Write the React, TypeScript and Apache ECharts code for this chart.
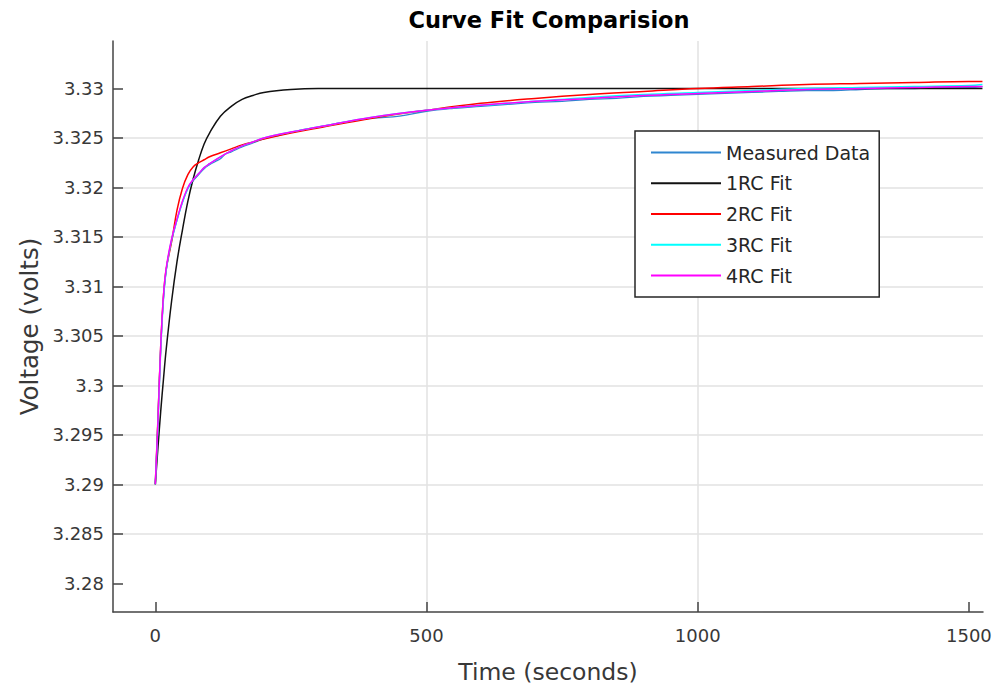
import React, { useEffect, useRef } from "react";
import * as echarts from "echarts";

const titleText = "Curve Fit Comparision";
const xName = "Time (seconds)";
const yName = "Voltage (volts)";

const xTicks = [0, 500, 1000, 1500];
const yTicks = [3.28, 3.285, 3.29, 3.295, 3.3, 3.305, 3.31, 3.315, 3.32, 3.325, 3.33];

const seriesNames = ["Measured Data", "1RC Fit", "2RC Fit", "3RC Fit", "4RC Fit"];

const fitTimes = [0, 5, 10, 15, 20, 30, 40, 50, 60, 70, 80, 90, 100, 120, 140, 160, 180, 200, 250, 300, 400, 500, 600, 700, 800, 900, 1000, 1100, 1200, 1300, 1400, 1500, 1525];

const fit1RC = [3.29, 3.2938, 3.2974, 3.3006, 3.3036, 3.3085, 3.3125, 3.3157, 3.3186, 3.3209, 3.3228, 3.3244, 3.3255, 3.3272, 3.3282, 3.3289, 3.3293, 3.3296, 3.3299, 3.33, 3.33, 3.33, 3.33, 3.33, 3.33, 3.33, 3.33, 3.33, 3.33, 3.33, 3.33, 3.33, 3.33];

const fit2RC = [3.29, 3.2968, 3.304, 3.309, 3.3117, 3.3145, 3.3177, 3.3199, 3.3213, 3.3221, 3.3225, 3.3228, 3.3231, 3.3235, 3.3239, 3.3243, 3.3246, 3.3249, 3.3255, 3.326, 3.327, 3.3278, 3.3285, 3.329, 3.3294, 3.3297, 3.33, 3.3302, 3.3304, 3.3305, 3.3306, 3.3307, 3.3307];

const fit3RC = [3.29, 3.2962, 3.3036, 3.3087, 3.3116, 3.3147, 3.3167, 3.3185, 3.3199, 3.3208, 3.3214, 3.322, 3.3224, 3.3231, 3.3237, 3.3242, 3.3246, 3.325, 3.3256, 3.3261, 3.3271, 3.3278, 3.3283, 3.3287, 3.3291, 3.3294, 3.3296, 3.3298, 3.33, 3.3301, 3.3302, 3.3303, 3.3304];

const fit4RC = [3.29, 3.2965, 3.304, 3.309, 3.3118, 3.3148, 3.3168, 3.3186, 3.32, 3.3208, 3.3214, 3.322, 3.3224, 3.3231, 3.3237, 3.3242, 3.3246, 3.325, 3.3256, 3.3261, 3.3271, 3.3278, 3.3283, 3.3287, 3.329, 3.3293, 3.3295, 3.3297, 3.3299, 3.33, 3.3301, 3.3302, 3.3302];

const measuredTimes = [0, 3, 6, 10, 15, 20, 25, 30, 40, 50, 60, 70, 80, 90, 100, 110, 120, 130, 140, 160, 180, 200, 230, 260, 300, 350, 400, 450, 500, 550, 600, 650, 700, 750, 800, 850, 900, 950, 1000, 1050, 1100, 1150, 1200, 1250, 1300, 1350, 1400, 1450, 1500, 1525];

const measured = [3.29, 3.2938, 3.2985, 3.3038, 3.3088, 3.3116, 3.3133, 3.3146, 3.3167, 3.3185, 3.3199, 3.3207, 3.3213, 3.3219, 3.3223, 3.3226, 3.3229, 3.3234, 3.3236, 3.3241, 3.3245, 3.3249, 3.3253, 3.3257, 3.3261, 3.3266, 3.327, 3.3272, 3.3277, 3.328, 3.3282, 3.3284, 3.3286, 3.3287, 3.3289, 3.329, 3.3292, 3.3293, 3.3294, 3.3295, 3.3296, 3.3297, 3.3298, 3.3298, 3.3299, 3.33, 3.33, 3.3301, 3.3301, 3.3302];

const colors = ["#2f86d0", "#111111", "#ff0000", "#00ffff", "#ff00ff"];

const FONT = "DejaVu Sans";

function zip(t: number[], v: number[]) {
  return t.map((x, i) => [x, v[i]]);
}

export default function App() {
  const ref = useRef<HTMLDivElement>(null);
  useEffect(() => {
    if (!ref.current) return;
    const chart = echarts.init(ref.current, null, { renderer: "svg" });
    const datas = [
      zip(measuredTimes, measured),
      zip(fitTimes, fit1RC),
      zip(fitTimes, fit2RC),
      zip(fitTimes, fit3RC),
      zip(fitTimes, fit4RC),
    ];
    const axisColor = "#444444";
    const labelColor = "#383838";
    chart.setOption({
      animation: false,
      backgroundColor: "#ffffff",
      grid: { left: 113, right: 17, top: 41, bottom: 79, containLabel: false },
      graphic: [
        {
          type: "text",
          x: 549,
          y: 20,
          style: {
            text: titleText,
            align: "center",
            verticalAlign: "middle",
            fontFamily: FONT,
            fontWeight: "bold",
            fontSize: 22.5,
            fill: "#000000",
          },
        },
      ],
      legend: {
        orient: "vertical",
        left: 635,
        top: 131,
        itemWidth: 70,
        itemHeight: 14,
        itemGap: 11.75,
        padding: [12, 9, 12, 15],
        borderColor: "#262626",
        borderWidth: 1.5,
        backgroundColor: "#ffffff",
        selectedMode: false,
        itemStyle: { opacity: 0, borderWidth: 0 },
        textStyle: { fontFamily: FONT, fontSize: 19, color: "#262626" },
        data: seriesNames,
      },
      xAxis: {
        type: "value",
        min: -78,
        max: 1526,
        splitNumber: 3,
        name: xName,
        nameLocation: "middle",
        nameGap: 48,
        nameTextStyle: { fontFamily: FONT, fontSize: 23.5, color: labelColor },
        axisLine: { show: true, onZero: false, lineStyle: { color: axisColor, width: 1.5 } },
        axisTick: { show: true, inside: true, length: 10, customValues: xTicks, lineStyle: { color: axisColor, width: 1.5 } },
        axisLabel: {
          customValues: xTicks,
          margin: 14,
          color: labelColor,
          fontFamily: FONT,
          fontSize: 18,
          formatter: (v: number) => String(v),
        },
        splitLine: { show: true, showMinLine: false, showMaxLine: false, lineStyle: { color: "#e2e2e2", width: 1.5 } },
      },
      yAxis: {
        type: "value",
        min: 3.2771,
        max: 3.3348,
        splitNumber: 11,
        name: yName,
        nameLocation: "middle",
        nameGap: 70,
        nameTextStyle: { fontFamily: FONT, fontSize: 24.5, color: labelColor },
        axisLine: { show: true, onZero: false, lineStyle: { color: axisColor, width: 1.5 } },
        axisTick: { show: true, inside: true, length: 10, customValues: yTicks, lineStyle: { color: axisColor, width: 1.5 } },
        axisLabel: {
          customValues: yTicks,
          margin: 9,
          color: labelColor,
          fontFamily: FONT,
          fontSize: 18,
          formatter: (v: number) => String(Number(v.toFixed(3))),
        },
        splitLine: { show: true, showMinLine: false, showMaxLine: false, lineStyle: { color: "#e2e2e2", width: 1.5 } },
      },
      series: seriesNames.map((name, i) => ({
        name,
        type: "line",
        data: datas[i],
        symbol: "none",
        showSymbol: false,
        smooth: 0.4,
        lineStyle: { color: colors[i], width: i === 0 ? 1.3 : 1.5 },
        itemStyle: { color: colors[i] },
      })),
    });
    return () => chart.dispose();
  }, []);
  return <div ref={ref} style={{ position: "absolute", left: 0, top: 0, width: 1000, height: 691 }} />;
}
